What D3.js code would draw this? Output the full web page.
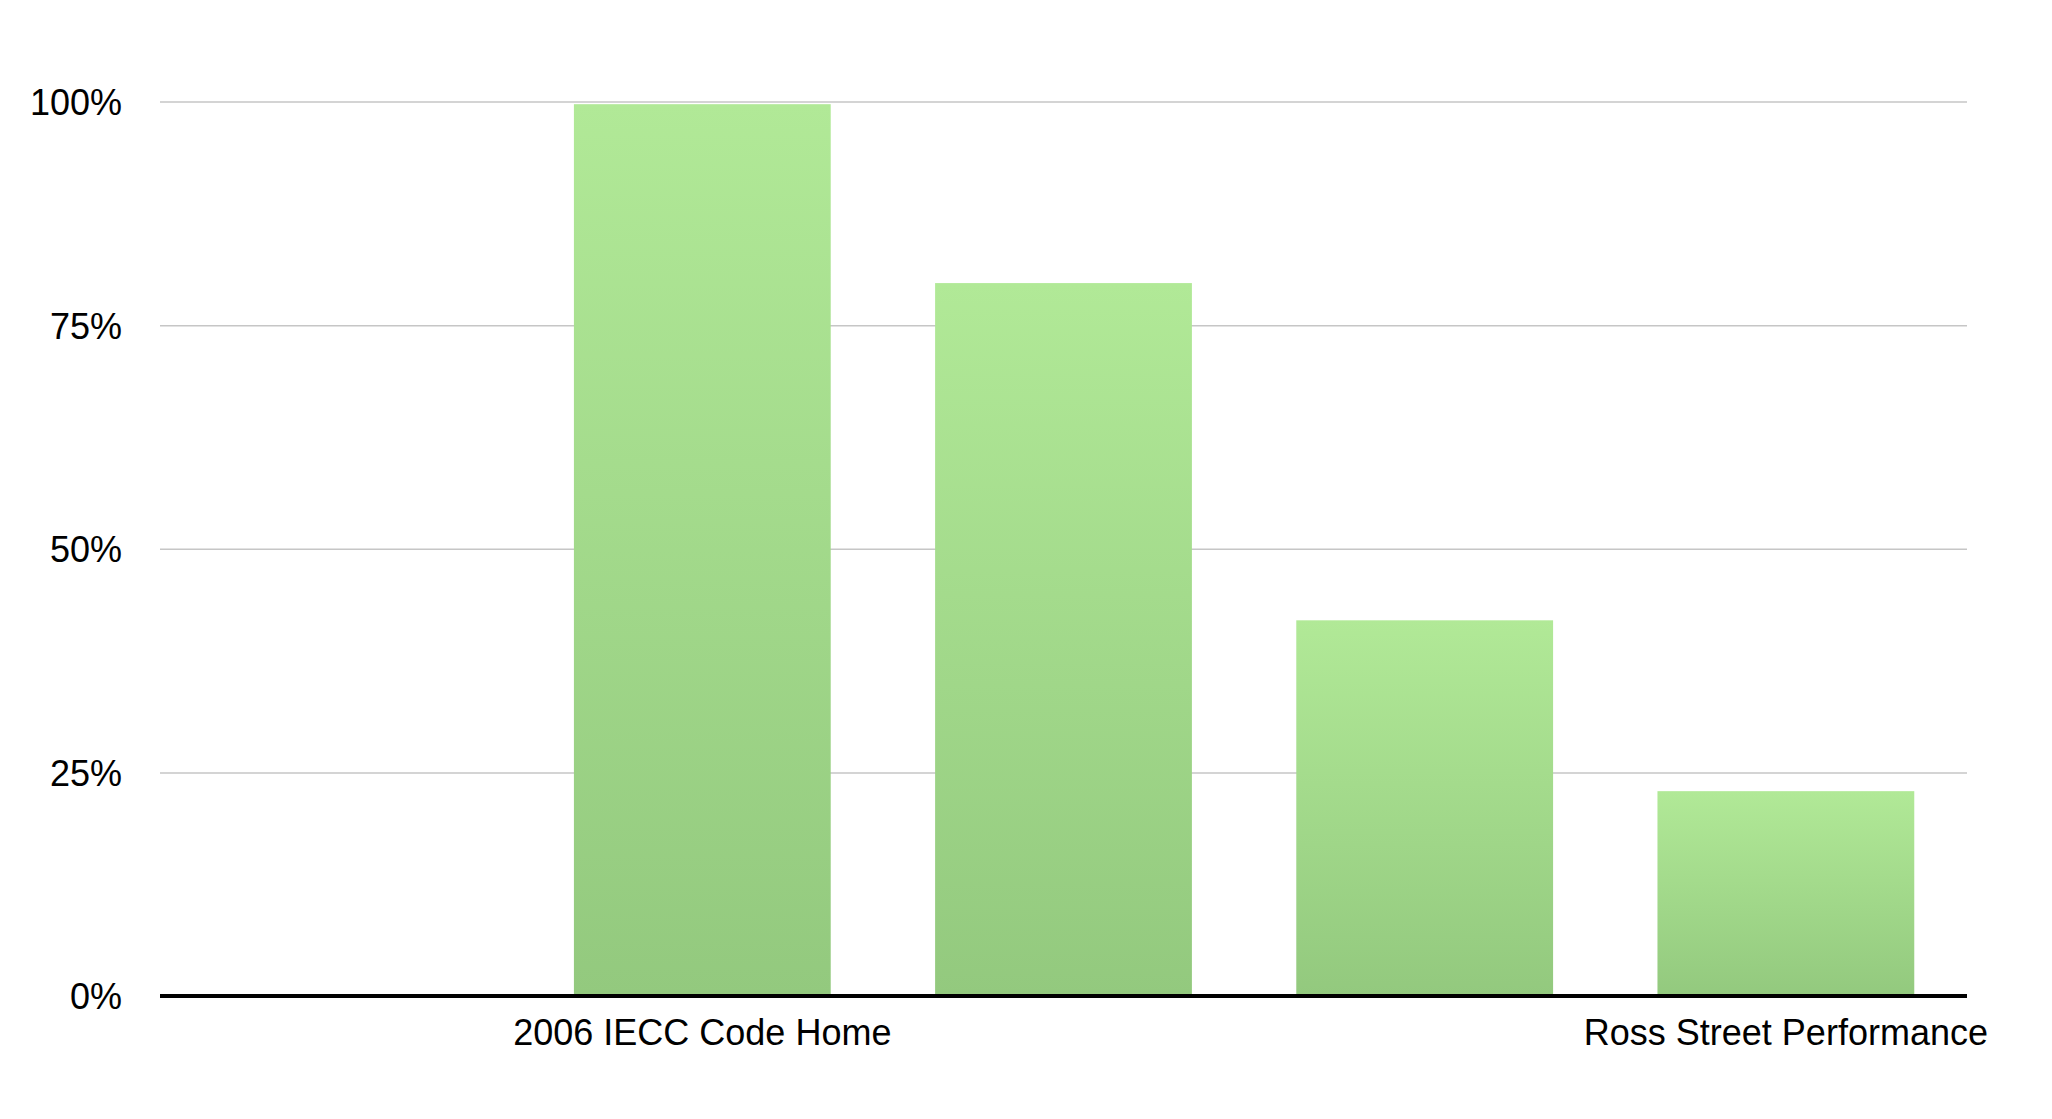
<!DOCTYPE html>
<html>
<head>
<meta charset="utf-8">
<script src="https://cdn.jsdelivr.net/npm/d3@7"></script>
<style>
  html, body { margin: 0; padding: 0; background: #ffffff; }
  svg { display: block; }
  text { font-family: "Liberation Sans", Arial, Helvetica, sans-serif; fill: #000; }
</style>
</head>
<body>
<svg id="chart" width="2052" height="1119"></svg>
<script>
// ---- data ----
const categories = ["cat0", "cat1", "cat2", "cat3", "cat4"];
const tickLabels = ["", "2006 IECC Code Home", "", "", "Ross Street Performance"];
const values = [null, 99.7, 79.7, 42.0, 22.9];
const yTicks = [0, 25, 50, 75, 100];

// ---- layout ----
const plotLeft = 160, plotRight = 1967, plotTop = 101.5, plotBottom = 996;

const svg = d3.select("#chart");

const x = d3.scaleBand()
  .domain(categories)
  .range([plotLeft, plotRight])
  .paddingInner(0.289)
  .paddingOuter(0.146);

const y = d3.scaleLinear().domain([0, 100]).range([plotBottom, plotTop]);

// gradient
const defs = svg.append("defs");
const grad = defs.append("linearGradient")
  .attr("id", "barGrad")
  .attr("x1", 0).attr("y1", 0).attr("x2", 0).attr("y2", 1);
grad.append("stop").attr("offset", "0%").attr("stop-color", "#b1e997");
grad.append("stop").attr("offset", "100%").attr("stop-color", "#93c97e");

// gridlines + y labels
const yAxis = d3.axisLeft(y)
  .tickValues(yTicks)
  .tickSize(-(plotRight - plotLeft))
  .tickFormat(d => d + "%");

const gy = svg.append("g")
  .attr("transform", `translate(${plotLeft},0)`)
  .call(yAxis);
gy.select(".domain").remove();
gy.selectAll(".tick line")
  .attr("stroke", "#c6c6c6")
  .attr("stroke-width", 1.5)
  .attr("opacity", d => d === 0 ? 0 : 1);
gy.selectAll(".tick text")
  .attr("x", -38)
  .attr("dy", "0.36em")
  .attr("text-anchor", "end")
  .style("font-size", "36px")
  .style("font-family", "'Liberation Sans', Arial, Helvetica, sans-serif")
  .attr("fill", "#000");

// bars
const data = categories.map((c, i) => ({ c, v: values[i] }));
svg.append("g")
  .selectAll("rect")
  .data(data.filter(d => d.v != null))
  .join("rect")
  .attr("x", d => x(d.c))
  .attr("width", x.bandwidth())
  .attr("y", d => y(d.v))
  .attr("height", d => y(0) - y(d.v))
  .attr("fill", "url(#barGrad)");

// x axis
const xAxis = d3.axisBottom(x)
  .tickSize(0)
  .tickFormat((d, i) => tickLabels[i]);
const gx = svg.append("g")
  .attr("transform", `translate(0,${plotBottom})`)
  .call(xAxis);
gx.select(".domain")
  .attr("stroke", "#000")
  .attr("stroke-width", 4)
  .attr("d", `M${plotLeft},0H${plotRight}`);
gx.selectAll(".tick text")
  .attr("y", 0)
  .attr("dy", 0)
  .attr("transform", "translate(0,49)")
  .style("font-size", "36px")
  .style("font-family", "'Liberation Sans', Arial, Helvetica, sans-serif")
  .attr("fill", "#000");
</script>
</body>
</html>
